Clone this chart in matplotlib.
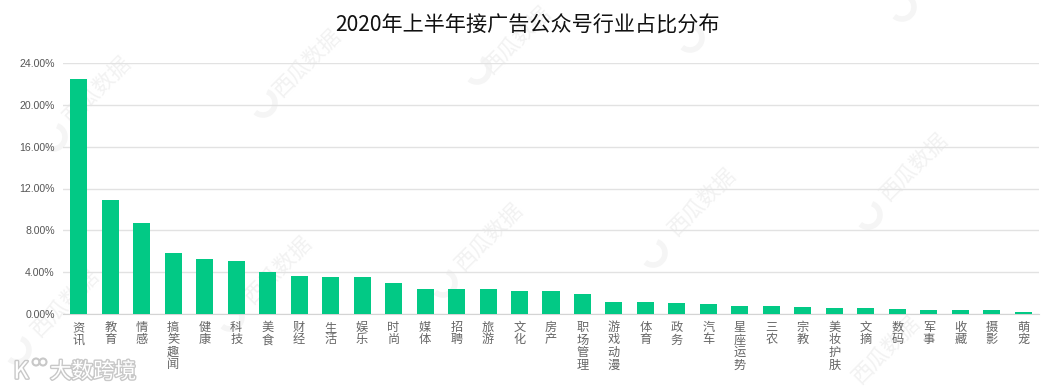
import matplotlib
matplotlib.use('Agg')
import matplotlib.pyplot as plt
import matplotlib.patheffects as pe
from matplotlib.patches import Arc, Circle
from matplotlib.ticker import FuncFormatter

plt.rcParams['font.family'] = ['Noto Sans CJK SC', 'DejaVu Sans']

# Chart data
categories = ['资讯', '教育', '情感', '搞笑趣闻', '健康', '科技', '美食', '财经', '生活', '娱乐',
              '时尚', '媒体', '招聘', '旅游', '文化', '房产', '职场管理', '游戏动漫', '体育', '政务',
              '汽车', '星座运势', '三农', '宗教', '美妆护肤', '文摘', '数码', '军事', '收藏', '摄影', '萌宠']
shares = [22.5, 10.9, 8.7, 5.85, 5.27, 5.07, 4.02, 3.64, 3.54, 3.54,
          2.97, 2.39, 2.39, 2.39, 2.2, 2.2, 1.9, 1.15, 1.15, 1.05,
          0.96, 0.77, 0.77, 0.67, 0.57, 0.57, 0.48, 0.38, 0.38, 0.38, 0.19]
y_ticks = [0, 4, 8, 12, 16, 20, 24]

W, H = 1055, 391

fig = plt.figure(figsize=(W / 100, H / 100), dpi=100)

# Background layer in pixel coordinates, for the watermarks
bg = fig.add_axes([0, 0, 1, 1], zorder=0)
bg.set_xlim(0, W)
bg.set_ylim(H, 0)
bg.axis('off')
wm_spots = [(97, 90), (307, 63), (65, 303), (278, 270), (489, 237), (702, 202), (914, 167),
            (886, 350), (517, 40)]
for x, y in wm_spots:
    bg.text(x, y, '西瓜数据', rotation=45, ha='center', va='center',
            fontsize=15.5, color='#f2f2f2')
swirls = [(53, 137), (263, 103), (230, 317), (17, 350), (443, 283), (653, 253), (868, 215),
          (477, 70), (690, 38), (902, 7)]
for x, y in swirls:
    bg.add_patch(Arc((x, y), 24, 24, theta1=-70, theta2=130, color='#f5f5f5', lw=4))

# Bars and axes
ax = fig.add_axes([63 / W, (H - 314) / H, 976 / W, 251 / H], zorder=1)
ax.patch.set_alpha(0)
ax.bar(range(len(categories)), shares, width=0.54, color='#02c985', zorder=3)
ax.set_xlim(-0.5, len(categories) - 0.5)
ax.set_ylim(0, 24)
ax.set_yticks(y_ticks)
ax.yaxis.set_major_formatter(FuncFormatter(lambda v, p: '{:.2f}%'.format(v)))
ax.set_xticks(range(len(categories)))
ax.set_xticklabels(['\n'.join(c) for c in categories], linespacing=0.95, va='top')
ax.tick_params(axis='x', length=0, pad=5, labelsize=8.8, labelcolor='#666666')
ax.tick_params(axis='y', length=0, pad=6, labelsize=7.6, labelcolor='#555555')
for label in ax.get_yticklabels():
    label.set_family('Liberation Sans')
ax.grid(axis='y', color='#e2e2e2', linewidth=1, zorder=0)
ax.set_axisbelow(True)
for side in ['top', 'right', 'left']:
    ax.spines[side].set_visible(False)
ax.spines['bottom'].set_color('#d4d4d4')

fig.text(527 / W, 1 - 26 / H, '2020年上半年接广告公众号行业占比分布', ha='center', va='center',
         fontsize=15.2, color='#111111')

# Corner logo
outline = [pe.withStroke(linewidth=2, foreground='#c8c8c8')]
bg.text(50, 372, '大数跨境', ha='left', va='center', fontsize=15.5, color='white', path_effects=outline)
bg.text(21, 372, 'K', ha='center', va='center', fontsize=17, color='white', path_effects=outline)
bg.add_patch(Circle((36, 362), 3.5, fc='white', ec='#c8c8c8', lw=1.5))
bg.add_patch(Circle((43, 362), 3.5, fc='white', ec='#c8c8c8', lw=1.5))

fig.savefig('out.png', dpi=100)
